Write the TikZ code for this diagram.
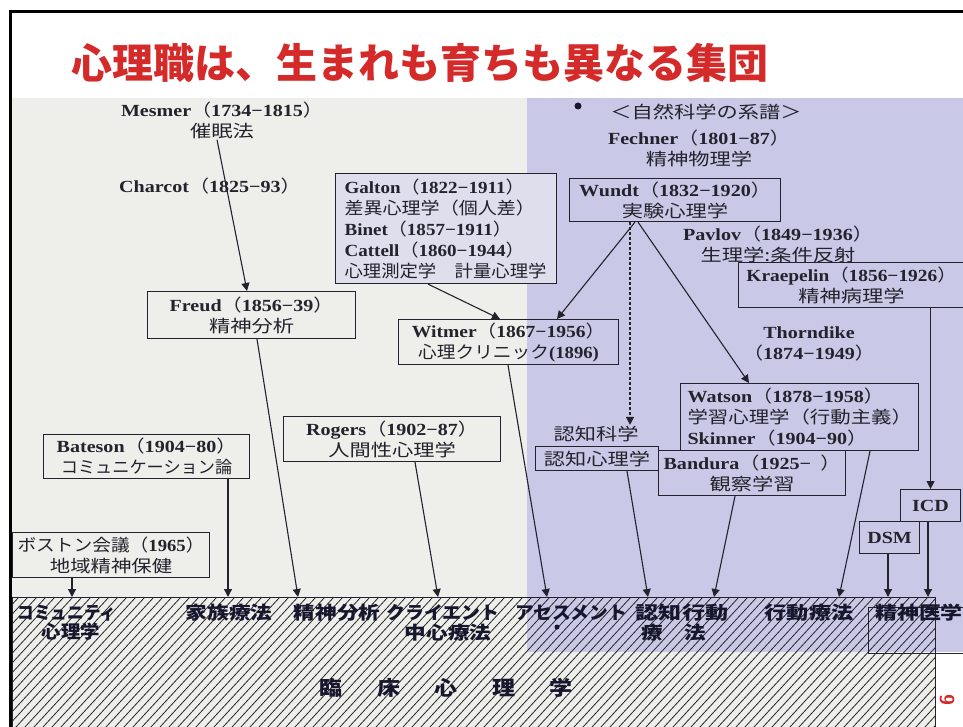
\documentclass[tikz,border=0pt]{standalone}
\usepackage{fontspec}
\usepackage{graphicx}
\setmainfont{Liberation Serif}
\newfontfamily\jpf{Noto Sans CJK JP}
\usetikzlibrary{arrows.meta}
\definecolor{photobg}{RGB}{238,238,234}
\definecolor{lav}{RGB}{201,201,231}
\definecolor{galfill}{RGB}{222,222,236}
\definecolor{ink}{RGB}{35,35,45}
\definecolor{lblc}{RGB}{22,22,45}
\definecolor{titlered}{RGB}{212,42,42}
\newcommand\jt[1]{{\jpf\mdseries #1}}
\newcommand\fwl{\jt{（}}
\newcommand\fwr{\jt{）}}
\newcommand\hx[1]{\scalebox{1.18}[1]{#1}}
\newcommand\hk[1]{\scalebox{1.25}[1]{#1}}
\newcommand\hxs[2]{\scalebox{#1}[1]{#2}}
\newcommand\fsbox{\fontsize{17}{21}\selectfont\bfseries}
\newcommand\fslbl{\fontsize{18}{20}\selectfont\jpf\bfseries}
\begin{document}
\begin{tikzpicture}[x=1pt,y=-1pt,
  pbox/.style={draw=ink, line width=1.1pt, anchor=north west, align=center, inner sep=0pt, font=\fsbox, text=ink},
  txt/.style={align=center, inner sep=1pt, font=\fsbox, text=ink},
  lbl/.style={inner sep=0pt, font=\fslbl, text=lblc},
  arr/.style={draw=ink, line width=1.1pt, -{Triangle[length=8pt,width=8pt]}},
  hatchl/.style={draw=black!85, line width=0.8pt}]
\useasboundingbox (0,0) rectangle (963,727);
\clip (0,0) rectangle (963,727);
% backgrounds
\fill[white] (0,0) rectangle (963,727);
\fill[photobg] (12,98) rectangle (963,727);
\fill[lav] (527,98) rectangle (963,652);
\fill[white] (935,652) rectangle (963,727);
% hatch strip
\begin{scope}
  \clip (12,597) rectangle (935,727);
  \foreach \i in {0,...,118} \draw[hatchl] ({\i*9-110},727) -- ++(120,-130);
\end{scope}
\draw[ink, line width=1pt] (12,597) rectangle (935,727);
% frame
\draw[black, line width=3pt] (10,740) -- (10,12) -- (975,12);
% title
\node[font=\fontsize{41}{41}\selectfont\jpf\bfseries, text=titlered] (title) at (420,63) {心理職は、生まれも育ちも異なる集団};

% free texts
\node[txt] (mesmer) at (222,120) {\hx{Mesmer\fwl 1734−1815\fwr}\\\hk{\jt{催眠法}}};
\node[txt] (charcot) at (210,186) {\hx{Charcot\fwl 1825−93\fwr}};
\fill[lblc] (578,106) circle (3.5);
\node[txt] (keifu) at (706,112) {\hk{\jt{＜自然科学の系譜＞}}};
\node[txt] (fechner) at (699,148) {\hx{Fechner\fwl 1801−87\fwr}\\\hk{\jt{精神物理学}}};
\node[txt] (pavlov) at (778,244) {\hx{Pavlov\fwl 1849−1936\fwr}\\\hk{\jt{生理学:条件反射}}};
\node[txt] (thorn) at (809,344) {\hx{Thorndike}\\\hx{\fwl 1874−1949\fwr}};
\node[txt] (ninka) at (596,434) {\hk{\jt{認知科学}}};

% boxes
\node[pbox, minimum width=208, minimum height=47] (freud) at (147,291)
  {\hx{Freud\fwl 1856−39\fwr}\\\hk{\jt{精神分析}}};
\node[pbox, fill=galfill, minimum width=221, minimum height=110, text width=203, align=left, inner xsep=9pt] (galton) at (335,173)
  {\hxs{1.12}{Galton\fwl 1822−1911\fwr}\\
   \hxs{1.12}{\jt{差異心理学（個人差）}}\\
   \hxs{1.12}{Binet\fwl 1857−1911\fwr}\\
   \hxs{1.12}{Cattell\fwl 1860−1944\fwr}\\
   \hxs{1.08}{\jt{心理測定学　計量心理学}}};
\node[pbox, minimum width=220, minimum height=45] (witmer) at (398,319)
  {\hxs{1.15}{Witmer\fwl 1867−1956\fwr}\\\hxs{1.1}{\jt{心理クリニック}(1896)}};
\node[pbox, minimum width=211, minimum height=43] (wundt) at (569,178)
  {\hx{Wundt\fwl 1832−1920\fwr}\\\hk{\jt{実験心理学}}};
\node[pbox, minimum width=226, minimum height=45] (kraep) at (738,262)
  {\hxs{1.14}{Kraepelin\fwl 1856−1926\fwr}\\\hk{\jt{精神病理学}}};
\node[pbox, minimum width=238, minimum height=67, text width=224, align=left, inner xsep=7pt] (watson) at (680,383)
  {\hx{Watson\fwl 1878−1958\fwr}\\\hxs{1.2}{\jt{学習心理学（行動主義）}}\\\hx{Skinner\fwl 1904−90\fwr}};
\node[pbox, minimum width=187, minimum height=45] (bandura) at (658,450)
  {\hx{Bandura\fwl 1925−\hspace{8pt}\fwr}\\\hk{\jt{観察学習}}};
\node[pbox, minimum width=123, minimum height=24] (ninchi) at (535,446)
  {\hk{\jt{認知心理学}}};
\node[pbox, minimum width=60, minimum height=32] (icd) at (900,489) {\hx{ICD}};
\node[pbox, minimum width=60, minimum height=32] (dsm) at (859,521) {\hx{DSM}};
\node[pbox, minimum width=217, minimum height=45] (rogers) at (283,416)
  {\hx{Rogers\fwl 1902−87\fwr}\\\hk{\jt{人間性心理学}}};
\node[pbox, minimum width=206, minimum height=44] (bateson) at (43,434)
  {\hx{Bateson\fwl 1904−80\fwr}\\\hxs{1.01}{\jt{コミュニケーション論}}};
\node[pbox, minimum width=197, minimum height=45] (boston) at (12,532)
  {\hxs{1.1}{\jt{ボストン会議}\fwl 1965\fwr}\\\hxs{1.2}{\jt{地域精神保健}}};
\node[pbox, minimum width=110, minimum height=46] (psyb) at (868,607) {};

% strip labels
\node[lbl] (lComm) at (67,613) {\hxs{0.92}{コミュニティ}};
\node[lbl] (lComm2) at (71,632) {\hxs{1.08}{心理学}};
\node[lbl] (lFam) at (229,613) {\hxs{1.2}{家族療法}};
\node[lbl] (lPsa) at (337,613) {\hxs{1.2}{精神分析}};
\node[lbl] (lCli) at (443,613) {\hxs{1.05}{クライエント}};
\node[lbl] (lCli2) at (448,633) {\hxs{1.2}{中心療法}};
\node[lbl] (lAss) at (571,613) {\hxs{1.04}{アセスメント}};
\fill[lblc] (557,627) circle (2.5);
\node[lbl] (lCbt) at (682,613) {\hxs{1.28}{認知行動}};
\node[lbl] (lCbt2) at (674,633) {\hxs{1.2}{療　法}};
\node[lbl] (lBeh) at (809,613) {\hxs{1.23}{行動療法}};
\node[lbl] (lPsy) at (919,613) {\hxs{1.22}{精神医学}};
\node[lbl, font=\fontsize{20}{22}\selectfont\jpf\bfseries] (rinsho) at (446,688)
  {\hxs{1.15}{臨\hspace{30pt}床\hspace{30pt}心\hspace{30pt}理\hspace{30pt}学}};
\node[text=titlered, font=\fontsize{20}{20}\selectfont\sffamily\bfseries, rotate=-90] (pnum) at (947,700) {9};

% arrow targets on the strip
\coordinate (s1) at (72,597);
\coordinate (s2) at (228,597);
\coordinate (s3) at (298,597);
\coordinate (s4) at (438,597);
\coordinate (s5) at (547,597);
\coordinate (s6) at (648,597);
\coordinate (s7) at (714,597);
\coordinate (s8) at (839,597);
\coordinate (s9) at (888,597);
\coordinate (s10) at (928,597);

% connectors
\draw[arr] ([xshift=-5pt]mesmer.south) -- ([xshift=100pt]freud.north west);
\draw[arr] ([xshift=110pt]freud.south west) -- (s3);
\draw[arr] ([xshift=93pt]galton.south west) -- ([xshift=102pt]witmer.north west);
\draw[arr] ([xshift=66pt]wundt.south west) -- ([xshift=159pt]witmer.north west);
\draw[arr, dash pattern=on 2.5pt off 2.5pt] ([xshift=61pt]wundt.south west) -- ([xshift=34pt]ninka.north);
\draw[arr] ([xshift=69pt]wundt.south west) -- ([xshift=69pt]watson.north west);
\draw[arr] (kraep.south -| icd.north) -- (icd.north);
\draw[arr] ([xshift=110pt]witmer.south west) -- (s5);
\draw[arr] ([xshift=132pt]rogers.south west) -- (s4);
\draw[arr] (bateson.south -| s2) -- (s2);
\draw[arr] (boston.south -| s1) -- (s1);
\draw[arr] ([xshift=92pt]ninchi.south west) -- (s6);
\draw[arr] ([xshift=77pt]bandura.south west) -- (s7);
\draw[arr] ([xshift=190pt]watson.south west) -- (s8);
\draw[arr] (dsm.south -| s9) -- (s9);
\draw[arr] (icd.south -| s10) -- (s10);
\end{tikzpicture}
\end{document}
